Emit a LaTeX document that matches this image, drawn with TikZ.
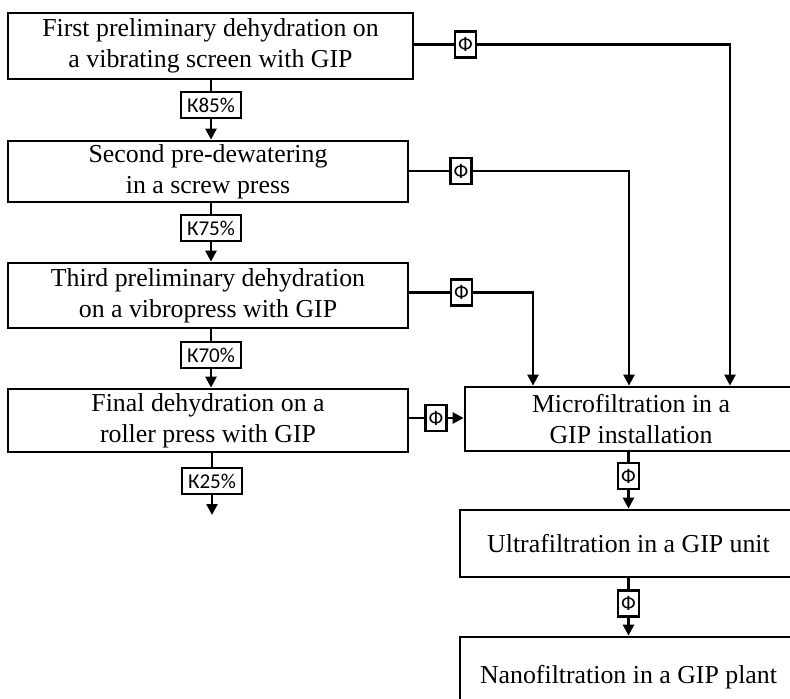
\documentclass[tikz,border=0pt]{standalone}
\usepackage{fontspec}
\setmainfont{Liberation Serif}
\newfontfamily\tagfont{Carlito}
\usepackage{tikz}
\usetikzlibrary{calc,positioning,arrows.meta}

\tikzset{
  stage/.style={draw, line width=1.6pt, align=center, inner sep=0pt,
    font=\fontsize{14.7}{17.6}\selectfont},
  tag/.style={draw, line width=1.5pt, fill=white, inner xsep=3.5pt, inner ysep=1.5pt,
    minimum height=0.52cm, minimum width=0.42cm, font=\tagfont\fontsize{12}{13}\selectfont},
  filt/.style={tag, inner xsep=1.5pt},
  link/.style={line width=1.4pt},
  flow/.style={line width=1.4pt, -{Triangle[length=0.22cm,width=0.22cm]}}
}

\begin{document}
\begin{tikzpicture}[x=0.02cm, y=-0.02cm]
		\clip (0,0) rectangle (790,698);
		% dewatering stages
		\node[stage, minimum width=8.1cm, minimum height=1.32cm] (first) at (210.5,46) {First preliminary dehydration on\\a vibrating screen with GIP};
		\node[stage, minimum width=8.0cm, minimum height=1.22cm] (second) at (208,171.5) {Second pre-dewatering\\in a screw press};
		\node[stage, minimum width=8.0cm, minimum height=1.3cm] (third) at (208,295.5) {Third preliminary dehydration\\on a vibropress with GIP};
		\node[stage, minimum width=8.0cm, minimum height=1.26cm] (final) at (208,420.5) {Final dehydration on a\\roller press with GIP};
		% filtration stages
		\node[stage, minimum width=6.64cm, minimum height=1.28cm] (micro) at (631,419) {Microfiltration in a\\GIP installation};
		\node[stage, minimum width=6.74cm, minimum height=1.34cm] (ultra) at (628.5,543.5) {Ultrafiltration in a GIP unit};
		\node[stage, minimum width=6.74cm, minimum height=1.6cm] (nano) at (628.5,677) {Nanofiltration in a GIP plant};
		% cake tags
		\node[tag] (k85) at (211,105) {К85\%};
		\node[tag] (k75) at (211,228) {К75\%};
		\node[tag] (k70) at (211,355) {К70\%};
		\node[tag] (k25) at (212,481) {К25\%};
		\coordinate (out) at (212,515);
		% filtrate tags
		\node[filt] (f1) at (465.5,44.5) {Ф};
		\node[filt] (f2) at (461,171) {Ф};
		\node[filt] (f3) at (461.5,292.5) {Ф};
		\node[filt] (f4) at (436,418) {Ф};
		\node[filt] (f5) at (628.5,476) {Ф};
		\node[filt] (f6) at (628.5,603.5) {Ф};
		\coordinate (c1) at (730,44.5);
		\coordinate (c2) at (629,171);
		\coordinate (c3) at (533,292.5);
		% cake line
		\draw[link] (first.south -| k85) -- (k85);
		\draw[flow] (k85) -- (second.north -| k85);
		\draw[link] (second.south -| k75) -- (k75);
		\draw[flow] (k75) -- (third.north -| k75);
		\draw[link] (third.south -| k70) -- (k70);
		\draw[flow] (k70) -- (final.north -| k70);
		\draw[link] (final.south -| k25) -- (k25);
		\draw[flow] (k25) -- (out);
		% filtrate lines
		\draw[flow] (first.east |- f1) -- (f1) -- (c1) -- (micro.north -| c1);
		\draw[flow] (second.east |- f2) -- (f2) -- (c2) -- (micro.north -| c2);
		\draw[flow] (third.east |- f3) -- (f3) -- (c3) -- (micro.north -| c3);
		\draw[link] (final.east |- f4) -- (f4);
		\draw[flow] (f4) -- (micro.west |- f4);
		\draw[link] (micro.south -| f5) -- (f5);
		\draw[flow] (f5) -- (ultra.north -| f5);
		\draw[link] (ultra.south -| f6) -- (f6);
		\draw[flow] (f6) -- (nano.north -| f6);
	\end{tikzpicture}
\end{document}
